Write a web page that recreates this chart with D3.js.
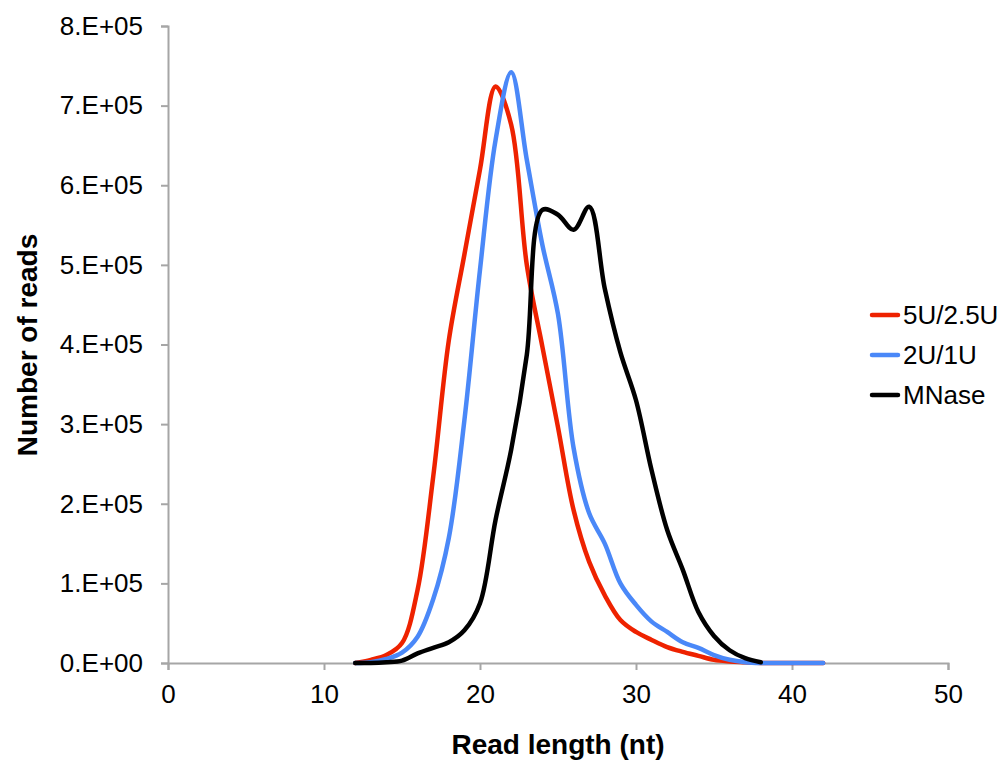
<!DOCTYPE html>
<html>
<head>
<meta charset="utf-8">
<script src="https://cdn.jsdelivr.net/npm/d3@7"></script>
<style>
  body { margin: 0; background: #fff; }
  text { font-family: "Liberation Sans", Arial, Helvetica, sans-serif; fill: #000; }
</style>
</head>
<body>
<div class="box"></div>
<script>
// DATA

const lengths = [12, 13, 14, 15, 16, 17, 18, 19, 20, 21, 22, 23, 24, 25, 26, 27,
                 28, 29, 30, 31, 32, 33, 34, 35, 36, 37, 38, 39, 40, 41, 42];

// reads, in units of 1e5
const red5U = [0, 0.04, 0.1, 0.25, 0.92, 2.34, 4.05, 5.13, 6.2, 7.24, 6.76, 5.0, 3.97, 2.96, 1.92, 1.27,
               0.85, 0.54, 0.39, 0.29, 0.2, 0.14, 0.09, 0.04, 0.02, 0.01, 0, 0, 0, 0, 0];
const blue2U = [0, 0.01, 0.05, 0.13, 0.33, 0.8, 1.57, 3.05, 4.94, 6.57, 7.42, 6.32, 5.25, 4.38, 2.7, 1.88,
                1.5, 1.0, 0.73, 0.52, 0.39, 0.26, 0.19, 0.1, 0.04, 0.01, 0, 0, 0, 0, 0];
const mnase = [0, 0, 0.01, 0.03, 0.12, 0.19, 0.26, 0.41, 0.75, 1.8, 2.68, 3.87, 5.69, 5.63, 5.44, 5.73,
               4.7, 3.9, 3.3, 2.42, 1.67, 1.17, 0.64, 0.34, 0.16, 0.06, 0.01];

const seriesNames = ['5U/2.5U', '2U/1U', 'MNase'];
const seriesColors = ['#ee2200', '#4a88f8', '#000000'];
const seriesValues = [red5U, blue2U, mnase];

const xTicks = [0, 10, 20, 30, 40, 50];
const yTicks = [0, 1, 2, 3, 4, 5, 6, 7, 8];

// SETUP

const dims = {width: 1003, height: 762};
const margin = {left: 168, top: 26, right: 55, bottom: 99};
const w = dims.width - margin.left - margin.right;
const h = dims.height - margin.top - margin.bottom;

const svg = d3.select('.box')
              .append('svg')
              .attr('width', dims.width)
              .attr('height', dims.height);

const graph = svg.append('g')
                 .attr('transform', `translate(${margin.left}, ${margin.top})`);

const x = d3.scaleLinear().domain([0, 50]).range([0, w]);
const y = d3.scaleLinear().domain([0, 8]).range([h, 0]);

// axes
const xAxis = d3.axisBottom(x)
                .tickValues(xTicks)
                .tickSize(7)
                .tickPadding(15);

const yAxis = d3.axisLeft(y)
                .tickValues(yTicks)
                .tickSize(7)
                .tickPadding(18)
                .tickFormat(d => d === 0 ? '0.E+00' : d + '.E+05');

const gx = graph.append('g')
                .attr('transform', `translate(0, ${h})`)
                .call(xAxis);
const gy = graph.append('g').call(yAxis);

[gx, gy].forEach(g => {
  g.select('.domain').attr('stroke', '#a6a6a6').attr('stroke-width', 2);
  g.selectAll('.tick line').attr('stroke', '#a6a6a6').attr('stroke-width', 2);
  g.selectAll('.tick text')
   .attr('fill', '#000')
   .style('font-size', '26px')
   .style('font-family', '"Liberation Sans", Arial, sans-serif');
});

// lines
const line = d3.line()
               .x((d, i) => x(lengths[i]))
               .y(d => y(d))
               .curve(d3.curveCatmullRom.alpha(0.5));

graph.selectAll('path.series')
     .data(seriesValues)
     .enter()
     .append('path')
     .attr('class', 'series')
     .attr('d', line)
     .attr('fill', 'none')
     .attr('stroke', (d, i) => seriesColors[i])
     .attr('stroke-width', 4.5)
     .attr('stroke-linecap', 'round')
     .attr('stroke-linejoin', 'round');

// axis titles
svg.append('text')
   .attr('x', margin.left + w / 2)
   .attr('y', 754)
   .attr('text-anchor', 'middle')
   .style('font-size', '28px')
   .style('font-weight', 'bold')
   .text('Read length (nt)');

svg.append('text')
   .attr('transform', `translate(37, 345) rotate(-90)`)
   .attr('text-anchor', 'middle')
   .style('font-size', '28px')
   .style('font-weight', 'bold')
   .text('Number of reads');

// legend
const legend = svg.append('g')
                  .attr('transform', 'translate(872, 315)');

const items = legend.selectAll('g')
                    .data(seriesNames)
                    .enter()
                    .append('g')
                    .attr('transform', (d, i) => `translate(0, ${i * 40})`);

items.append('line')
     .attr('x1', 0)
     .attr('x2', 26)
     .attr('stroke', (d, i) => seriesColors[i])
     .attr('stroke-width', 4.5)
     .attr('stroke-linecap', 'round');

items.append('text')
     .attr('x', 31)
     .attr('y', 9)
     .style('font-size', '26px')
     .text(d => d);
</script>
</body>
</html>
